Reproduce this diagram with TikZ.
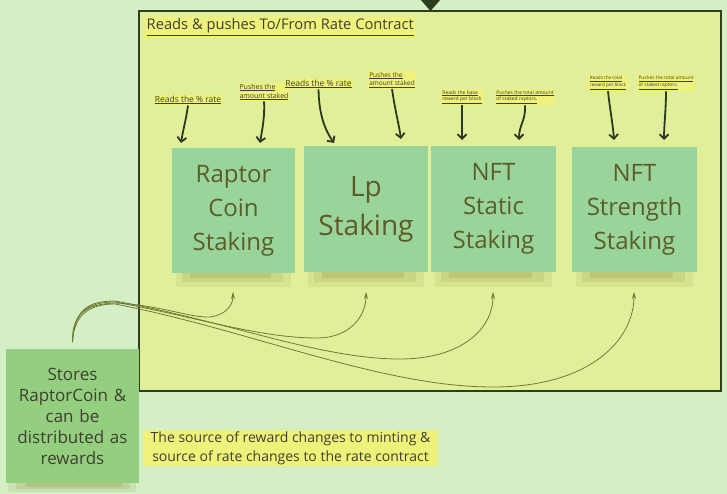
\documentclass[tikz,border=0pt]{standalone}
\usepackage{fontspec}
\setmainfont{Open Sans}
\usetikzlibrary{arrows.meta}
\definecolor{bg}{HTML}{D4EFC6}
\definecolor{panelc}{HTML}{E2EF9A}
\definecolor{boxg}{HTML}{99D59A}
\definecolor{storeg}{HTML}{94CF80}
\definecolor{hl}{HTML}{EEF27A}
\definecolor{txt}{HTML}{3F4030}
\definecolor{boxtxt}{HTML}{5C5C28}
\definecolor{borderc}{HTML}{2E3D1C}
\definecolor{arrowc}{HTML}{2B3A1F}
\definecolor{curvec}{HTML}{6E7B34}
\definecolor{shadowc}{HTML}{8F9440}
\begin{document}
\begin{tikzpicture}[x=1pt,y=-1pt,
  panelbox/.style={draw=borderc, line width=1.3pt, fill=panelc, inner sep=0pt},
  stakebox/.style={fill=boxg, text=boxtxt, inner sep=0pt, align=center,
    minimum width=124pt, minimum height=125pt, text width=120pt,
    font=\fontsize{24}{34}\selectfont},
  storebox/.style={fill=storeg, text=txt, inner sep=0pt, align=center,
    minimum width=133pt, minimum height=134pt, text width=130pt,
    font=\fontsize{17}{21}\selectfont},
  hlbox/.style={fill=hl, text=txt, inner sep=1.5pt, align=left},
  labarrow/.style={draw=arrowc, line width=1.8pt, -{Straight Barb[length=4.5pt,width=9pt,line width=1.8pt]}},
  feed/.style={draw=curvec, line width=0.8pt, -{Stealth[length=7pt,width=4pt]}},
  shadowband/.style={fill=shadowc}
]
% background and frame
\path[use as bounding box, fill=bg] (0,0) rectangle (727,494);
\node[panelbox, minimum width=582pt, minimum height=380pt] (panel) at (430,201) {};
\fill[borderc] (420,-1) -- (441,-1) -- (430.5,11) -- cycle;

% title
\node[hlbox, anchor=west, font=\fontsize{14.7}{18}\selectfont] (title) at (145,27)
  {\underline{Reads \& pushes To/From Rate Contract}};

% soft shadows under the boxes
\foreach \cx/\w in {233.5/123, 366/124, 493.5/125, 634.5/125}{
  \fill[shadowband, opacity=0.12] (\cx-\w/2+4,272) rectangle (\cx+\w/2-4,287);
  \fill[shadowband, opacity=0.16] (\cx-\w/2+10,272) rectangle (\cx+\w/2-12,282);
  \fill[shadowband, opacity=0.22] (\cx-\w/2+18,272) rectangle (\cx+\w/2-24,278);
}
\fill[shadowband, opacity=0.14] (8,483) rectangle (136,492);
\fill[shadowband, opacity=0.2] (16,483) rectangle (130,489);
\fill[shadowband, opacity=0.25] (26,483) rectangle (122,486.5);

% staking boxes
\node[stakebox, minimum width=123pt, minimum height=124pt] (b1) at (233.5,210.5) {Raptor\\Coin\\Staking};
\node[stakebox, minimum width=124pt, minimum height=126pt, font=\fontsize{28}{39}\selectfont] (b2) at (366,209) {Lp\\Staking};
\node[stakebox, minimum width=125pt, minimum height=126pt] (b3) at (493.5,209) {NFT\\Static\\Staking};
\node[stakebox, minimum width=125pt, minimum height=125pt] (b4) at (634.5,209.5) {NFT\\Strength\\Staking};

% storage and note
\node[storebox] (store) at (72.5,416) {Stores\\RaptorCoin \&\\can be\\distributed as\\rewards};
\node[hlbox, align=center, minimum width=295pt, minimum height=36pt, inner sep=0pt,
  font=\fontsize{14}{19}\selectfont] (note) at (290.5,448)
  {The source of reward changes to minting \&\\source of rate changes to the rate contract};

% small labels
\node[hlbox, font=\fontsize{8.5}{10}\selectfont, inner sep=1pt] (l1) at (188,100) {\underline{Reads the \% rate}};
\node[hlbox, font=\fontsize{7}{9}\selectfont, inner sep=1pt] (l2) at (264,92) {\underline{Pushes the}\\\underline{amount staked}};
\node[hlbox, font=\fontsize{8.5}{10}\selectfont, inner sep=1pt] (l3) at (318.5,84) {\underline{Reads the \% rate}};
\node[hlbox, font=\fontsize{6.5}{8.5}\selectfont, inner sep=1pt] (l4) at (392,80) {\underline{Pushes the}\\\underline{amount staked}};
\node[hlbox, font=\fontsize{5}{6.5}\selectfont, inner sep=1.5pt] (l5) at (462,97) {\underline{Reads the base}\\\underline{reward per block}};
\node[hlbox, font=\fontsize{5}{6.5}\selectfont, inner sep=1.5pt] (l6) at (525,97) {\underline{Pushes the total amount}\\\underline{of staked raptors.}};
\node[hlbox, font=\fontsize{4.6}{6.5}\selectfont, inner sep=1.5pt] (l7) at (608,83) {\underline{Reads the total}\\\underline{reward per block}};
\node[hlbox, font=\fontsize{4.8}{6.5}\selectfont, inner sep=1.5pt] (l8) at (666,83) {\underline{Pushes the total amount}\\\underline{of staked raptors.}};

% label arrow tips
\coordinate (a1) at (181,143);
\coordinate (a2) at (260,143);
\coordinate (a3) at (334,143);
\coordinate (a4) at (401,139);
\coordinate (a5) at (462,140);
\coordinate (a6) at (519,140);
\coordinate (a7) at (614,140);
\coordinate (a8) at (664,140);
\draw[labarrow] (l1.south) .. controls (186,120) and (183,130) .. (a1);
\draw[labarrow] (l2.south) .. controls (265,118) and (262,130) .. (a2);
\draw[labarrow] (l3.south) .. controls (319,115) and (325,130) .. (a3);
\draw[labarrow] (l4.south) .. controls (395,110) and (399,125) .. (a4);
\draw[labarrow] (l5.south) -- (a5);
\draw[labarrow] (l6.south) .. controls (526,120) and (519,125) .. (a6);
\draw[labarrow] (l7.south) .. controls (610,110) and (613,125) .. (a7);
\draw[labarrow] (l8.south) .. controls (666,110) and (664,125) .. (a8);

% feeding curves from storage to staking boxes
\coordinate (src) at (72.5,342);
\coordinate (t1) at (233,292);
\coordinate (t2) at (366,292);
\coordinate (t3) at (493,292);
\coordinate (t4) at (634,292);
\draw[feed] (src) .. controls (72,314) and (86,304) .. (115,303)
  .. controls (160,305) and (190,318) .. (210,317) .. controls (225,315) and (233,306) .. (t1);
\draw[feed] (src) .. controls (73,312) and (88,302) .. (115,302)
  .. controls (200,318) and (260,338) .. (317,338) .. controls (350,338) and (366,316) .. (t2);
\draw[feed] (src) .. controls (74,310) and (88,301) .. (115,301)
  .. controls (230,322) and (320,359) .. (400,359) .. controls (460,359) and (493,330) .. (t3);
\draw[feed] (src) .. controls (74,314) and (90,304) .. (115,304)
  .. controls (250,330) and (380,387) .. (493,387) .. controls (590,387) and (634,340) .. (t4);
\end{tikzpicture}
\end{document}
